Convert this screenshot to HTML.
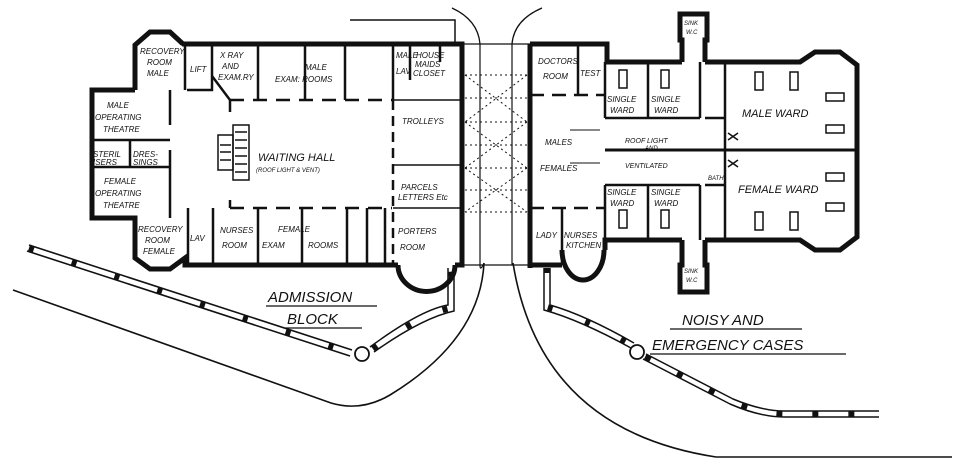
<!DOCTYPE html>
<html><head><meta charset="utf-8"><style>
html,body{margin:0;padding:0;background:#fff;width:960px;height:465px;overflow:hidden}
svg{display:block}
text{font-family:"Liberation Sans",sans-serif;font-style:italic;fill:#111}
.s{font-size:8px}
.m{font-size:11px}
.l{font-size:15px}
</style></head><body>
<svg width="960" height="465" viewBox="0 0 960 465" xmlns="http://www.w3.org/2000/svg">
<g fill="none" stroke="#111" stroke-linejoin="miter">
<!-- roads single lines -->
<path d="M13,290 L331,403 Q361,412 390,395 Q480,340 484,263" stroke-width="1.6"/>
<path d="M513,263 Q540,430 716,457 L952,457" stroke-width="1.6"/>
<!-- covered ways -->
<path d="M29,245 L352,350 M27,251 L350,356" stroke-width="1.6"/>
<path d="M29,248 L351,353" stroke="#111" stroke-width="6" stroke-dasharray="5,40" />
<circle cx="362" cy="354" r="7" stroke-width="1.8" fill="#fff"/>
<path d="M370,347 Q420,310 448,305 L448,268 M374,352 Q422,318 454,311 L454,268" stroke-width="1.5"/>
<path d="M373,349 Q421,314 451,308 L451,268" stroke-width="6" stroke-dasharray="5,35"/>
<path d="M544,268 L544,310 Q580,320 631,348 M550,268 L550,305 Q585,315 634,343" stroke-width="1.5"/>
<path d="M547,268 L547,307 Q583,318 632,345" stroke-width="6" stroke-dasharray="5,35"/>
<circle cx="637" cy="352" r="7" stroke-width="1.8" fill="#fff"/>
<path d="M643,359 L730,404 Q760,417 784,417 L879,417 M646,354 L733,399 Q762,411 784,411 L879,411" stroke-width="1.5"/>
<path d="M645,357 L732,402 Q760,414 784,414 L879,414" stroke-width="6" stroke-dasharray="6,30"/>
<!-- top arcs & line -->
<path d="M350,20 L455,20 L455,44" stroke-width="1.5"/>
<path d="M452,8 Q478,20 480,44" stroke-width="1.3"/>
<path d="M542,8 Q514,20 512,44" stroke-width="1.3"/>
<!-- corridor -->
<path d="M480,44 L480,265 Q480,272 484,263 M512,44 L512,265" stroke-width="1.2"/>
<path d="M462,44 L530,44 M462,265 L530,265" stroke-width="1.2"/>
<g stroke-width="1" stroke-dasharray="2,3">
<path d="M465,75 L527,75 M465,98 L527,98 M465,122 L527,122 M465,145 L527,145 M465,168 L527,168 M465,190 L527,190 M465,212 L527,212"/>
<path d="M465,75 L527,122 M527,75 L465,122 M465,122 L527,168 M527,122 L465,168 M465,168 L527,212 M527,168 L465,212"/>
</g>
<!-- ADMISSION BLOCK walls -->
<g stroke-width="5">
<path d="M182,44 L462,44 L462,265 L455,265"/>
<path d="M135,90 L135,45 L150,32 L170,32 L183,44"/>
<path d="M135,90 L92,90 L92,218 L135,218 L135,258 L150,269 L170,269 L185,258 L185,265 L398,265"/>
<path d="M398,265 A28,26 0 0 0 455,265"/>
</g>
<g stroke-width="2.5">
<path d="M170,90 L170,125 M170,150 L170,218"/>
<path d="M92,140 L170,140 M92,167 L170,167 M130,140 L130,167"/>
<path d="M185,44 L185,90 M212,44 L212,90 L187,90"/>
<path d="M212,76 L230,100 L230,112"/>
<path d="M258,44 L258,100 M305,44 L305,100 M345,44 L345,100 M393,44 L393,100 M410,44 L410,80 M440,44 L440,62"/>
<path d="M230,100 L392,100" stroke-dasharray="14,9"/>
<path d="M230,208 L392,208" stroke-dasharray="14,9"/>
<path d="M230,200 L230,208"/>
<path d="M188,208 L188,265 M213,208 L213,265 M258,208 L258,265 M302,208 L302,265 M347,208 L347,265 M367,208 L367,265 M385,208 L385,265"/>
<path d="M393,100 L393,265" stroke-dasharray="10,6"/>
<path d="M393,100 L460,100 M393,165 L460,165 M393,208 L460,208" stroke-width="1.5"/>
</g>
<!-- stairs -->
<g stroke-width="1.5">
<rect x="218" y="135" width="15" height="35"/>
<rect x="233" y="125" width="16" height="55"/>
<path d="M235,132 L247,132 M235,140 L247,140 M235,148 L247,148 M235,156 L247,156 M235,164 L247,164 M235,172 L247,172 M220,145 L231,145 M220,152 L231,152 M220,160 L231,160"/>
</g>
<!-- RIGHT BLOCK walls -->
<g stroke-width="5">
<path d="M530,44 L530,268"/>
<path d="M530,44 L607,44 L607,62 L682,62 M705,62 L800,62 L815,52 L840,52 L857,65 L857,237 L840,250 L815,250 L800,240 L705,240 M682,240 L605,240 L605,250"/>
<path d="M530,265 L562,265 M562,250 A21,30 0 0 0 604,250"/>
<path d="M682,62 L682,40 L680,40 L680,14 L707,14 L707,40 L705,40 L705,62"/>
<path d="M682,240 L682,265 L680,265 L680,292 L707,292 L707,265 L705,265 L705,240"/>
</g>
<g stroke-width="2.5">
<path d="M530,95 L605,95" stroke-dasharray="14,8"/>
<path d="M578,44 L578,95"/>
<path d="M530,208 L605,208" stroke-dasharray="14,8"/>
<path d="M562,208 L562,265"/>
<path d="M605,62 L605,118 M648,62 L648,118 M700,62 L700,118 M605,118 L700,118" />
<path d="M605,185 L605,240 M648,185 L648,240 M700,185 L700,240 M605,185 L700,185"/>
<path d="M725,62 L725,150 M725,150 L725,240 M705,118 L725,118 M705,185 L725,185"/>
<path d="M605,150 L857,150" stroke-width="3"/>
<path d="M570,130 L600,130 M570,163 L600,163" stroke-width="1"/>
</g>
<g stroke-width="1.5">
<rect x="619" y="70" width="8" height="18"/><rect x="661" y="70" width="8" height="18"/>
<rect x="619" y="210" width="8" height="18"/><rect x="661" y="210" width="8" height="18"/>
<rect x="755" y="72" width="8" height="18"/><rect x="790" y="72" width="8" height="18"/>
<rect x="826" y="93" width="18" height="8"/><rect x="826" y="125" width="18" height="8"/>
<rect x="755" y="212" width="8" height="18"/><rect x="790" y="212" width="8" height="18"/>
<rect x="826" y="173" width="18" height="8"/><rect x="826" y="203" width="18" height="8"/>
<path d="M728,133 L738,140 M738,133 L728,140 M728,160 L738,167 M738,160 L728,167"/>
</g>
</g>
<!-- labels -->
<text class="s" x="140" y="54">RECOVERY</text><text class="s" x="147" y="65">ROOM</text><text class="s" x="147" y="76">MALE</text>
<text class="s" x="190" y="72">LIFT</text>
<text class="s" x="220" y="58">X RAY</text><text class="s" x="222" y="69">AND</text><text class="s" x="218" y="80">EXAM.RY</text>
<text class="s" x="305" y="70">MALE</text><text class="s" x="275" y="82">EXAM: ROOMS</text>
<text class="s" x="396" y="58">MALE</text><text class="s" x="396" y="74">LAV</text>
<text class="s" x="416" y="58">HOUSE</text><text class="s" x="415" y="67">MAIDS</text><text class="s" x="413" y="76">CLOSET</text>
<text class="s" x="402" y="124">TROLLEYS</text>
<text class="m" x="258" y="161">WAITING HALL</text>
<text style="font-size:6px" x="256" y="172">(ROOF LIGHT &amp; VENT)</text>
<text class="s" x="107" y="108">MALE</text><text class="s" x="95" y="120">OPERATING</text><text class="s" x="103" y="132">THEATRE</text>
<text class="s" x="93" y="157">STERIL</text><text class="s" x="133" y="157">DRES-</text>
<text class="s" x="93" y="165">ISERS</text><text class="s" x="133" y="165">SINGS</text>
<text class="s" x="104" y="184">FEMALE</text><text class="s" x="95" y="196">OPERATING</text><text class="s" x="103" y="208">THEATRE</text>
<text class="s" x="138" y="232">RECOVERY</text><text class="s" x="145" y="243">ROOM</text><text class="s" x="143" y="254">FEMALE</text>
<text class="s" x="190" y="241">LAV</text>
<text class="s" x="220" y="233">NURSES</text><text class="s" x="222" y="248">ROOM</text>
<text class="s" x="278" y="232">FEMALE</text><text class="s" x="262" y="248">EXAM</text><text class="s" x="308" y="248">ROOMS</text>
<text class="s" x="401" y="190">PARCELS</text><text class="s" x="398" y="200">LETTERS Etc</text>
<text class="s" x="398" y="234">PORTERS</text><text class="s" x="400" y="250">ROOM</text>
<text class="s" x="538" y="64">DOCTORS</text><text class="s" x="543" y="79">ROOM</text><text class="s" x="580" y="76">TEST</text>
<text class="s" x="607" y="102">SINGLE</text><text class="s" x="610" y="113">WARD</text>
<text class="s" x="651" y="102">SINGLE</text><text class="s" x="654" y="113">WARD</text>
<text class="s" x="607" y="195">SINGLE</text><text class="s" x="610" y="206">WARD</text>
<text class="s" x="651" y="195">SINGLE</text><text class="s" x="654" y="206">WARD</text>
<text class="s" x="545" y="145">MALES</text><text class="s" x="540" y="171">FEMALES</text>
<text style="font-size:7px" x="625" y="143">ROOF LIGHT</text><text style="font-size:6px" x="645" y="150">AND</text>
<text style="font-size:7px" x="625" y="168">VENTILATED</text>
<text class="m" x="742" y="117">MALE WARD</text>
<text class="m" x="738" y="193">FEMALE WARD</text>
<text class="s" x="536" y="238">LADY</text><text class="s" x="564" y="238">NURSES</text><text class="s" x="566" y="248">KITCHEN</text>
<text style="font-size:6px" x="684" y="25">SINK</text><text style="font-size:6px" x="686" y="34">W.C</text>
<text style="font-size:6px" x="684" y="273">SINK</text><text style="font-size:6px" x="686" y="282">W.C</text>
<text style="font-size:6px" x="708" y="180">BATH</text>
<text class="l" x="268" y="302">ADMISSION</text>
<text class="l" x="287" y="324">BLOCK</text>
<text class="l" x="682" y="325">NOISY AND</text>
<text class="l" x="652" y="350">EMERGENCY CASES</text>
<g stroke="#111" stroke-width="1.3">
<line x1="266" y1="306" x2="377" y2="306"/><line x1="285" y1="328" x2="362" y2="328"/>
<line x1="670" y1="329" x2="802" y2="329"/><line x1="650" y1="354" x2="846" y2="354"/>
</g>
</svg>
</body></html>
